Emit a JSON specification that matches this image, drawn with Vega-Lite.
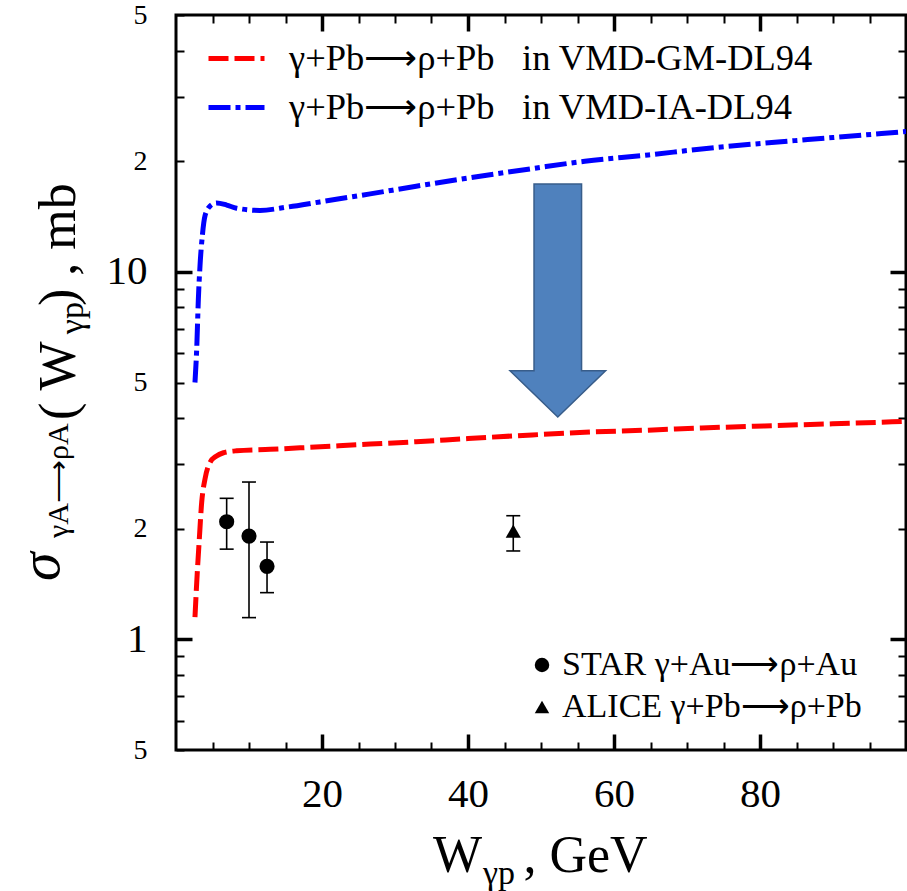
{
  "$schema": "https://vega.github.io/schema/vega-lite/v6.json",
  "width": 730,
  "height": 735,
  "autosize": {"type": "none"},
  "padding": {"left": 176, "top": 15, "right": 1, "bottom": 141},
  "background": "white",
  "config": {
    "view": {"stroke": "black", "strokeWidth": 3},
    "font": "Liberation Serif",
    "axis": {"labelFont": "Liberation Serif", "labelColor": "black", "tickColor": "black", "domain": false, "grid": false, "labelFlush": false, "labelOverlap": false, "labelBound": false}
  },
  "datasets": {
    "curves": [
      {"W": 2.6, "sigma": 1.15, "model": "VMD-GM-DL94"},
      {"W": 2.84, "sigma": 1.43, "model": "VMD-GM-DL94"},
      {"W": 3.19, "sigma": 1.87, "model": "VMD-GM-DL94"},
      {"W": 3.52, "sigma": 2.36, "model": "VMD-GM-DL94"},
      {"W": 3.97, "sigma": 2.73, "model": "VMD-GM-DL94"},
      {"W": 4.66, "sigma": 3.03, "model": "VMD-GM-DL94"},
      {"W": 5.5, "sigma": 3.15, "model": "VMD-GM-DL94"},
      {"W": 6.5, "sigma": 3.22, "model": "VMD-GM-DL94"},
      {"W": 8.3, "sigma": 3.26, "model": "VMD-GM-DL94"},
      {"W": 12.9, "sigma": 3.29, "model": "VMD-GM-DL94"},
      {"W": 17, "sigma": 3.32, "model": "VMD-GM-DL94"},
      {"W": 26.6, "sigma": 3.4, "model": "VMD-GM-DL94"},
      {"W": 32.9, "sigma": 3.45, "model": "VMD-GM-DL94"},
      {"W": 40, "sigma": 3.52, "model": "VMD-GM-DL94"},
      {"W": 48.8, "sigma": 3.6, "model": "VMD-GM-DL94"},
      {"W": 56, "sigma": 3.66, "model": "VMD-GM-DL94"},
      {"W": 64.7, "sigma": 3.71, "model": "VMD-GM-DL94"},
      {"W": 72, "sigma": 3.76, "model": "VMD-GM-DL94"},
      {"W": 80.6, "sigma": 3.81, "model": "VMD-GM-DL94"},
      {"W": 90, "sigma": 3.86, "model": "VMD-GM-DL94"},
      {"W": 100, "sigma": 3.92, "model": "VMD-GM-DL94"},
      {"W": 2.6, "sigma": 5.0, "model": "VMD-IA-DL94"},
      {"W": 2.84, "sigma": 6.2, "model": "VMD-IA-DL94"},
      {"W": 3.06, "sigma": 8.4, "model": "VMD-IA-DL94"},
      {"W": 3.29, "sigma": 10.4, "model": "VMD-IA-DL94"},
      {"W": 3.6, "sigma": 12.5, "model": "VMD-IA-DL94"},
      {"W": 3.97, "sigma": 14.2, "model": "VMD-IA-DL94"},
      {"W": 4.66, "sigma": 15.1, "model": "VMD-IA-DL94"},
      {"W": 5.57, "sigma": 15.4, "model": "VMD-IA-DL94"},
      {"W": 6.94, "sigma": 15.2, "model": "VMD-IA-DL94"},
      {"W": 8.3, "sigma": 14.9, "model": "VMD-IA-DL94"},
      {"W": 11.5, "sigma": 14.7, "model": "VMD-IA-DL94"},
      {"W": 15.2, "sigma": 15.0, "model": "VMD-IA-DL94"},
      {"W": 19.7, "sigma": 15.5, "model": "VMD-IA-DL94"},
      {"W": 26.6, "sigma": 16.3, "model": "VMD-IA-DL94"},
      {"W": 32.9, "sigma": 17.1, "model": "VMD-IA-DL94"},
      {"W": 40, "sigma": 18.0, "model": "VMD-IA-DL94"},
      {"W": 48.8, "sigma": 19.1, "model": "VMD-IA-DL94"},
      {"W": 56, "sigma": 20.0, "model": "VMD-IA-DL94"},
      {"W": 64.7, "sigma": 20.8, "model": "VMD-IA-DL94"},
      {"W": 72, "sigma": 21.6, "model": "VMD-IA-DL94"},
      {"W": 80.6, "sigma": 22.4, "model": "VMD-IA-DL94"},
      {"W": 90, "sigma": 23.2, "model": "VMD-IA-DL94"},
      {"W": 100, "sigma": 24.1, "model": "VMD-IA-DL94"}
    ],
    "points": [
      {"W": 6.94, "sigma": 2.09, "lo": 1.76, "hi": 2.42, "exp": "STAR γ+Au⟶ρ+Au"},
      {"W": 10.0, "sigma": 1.91, "lo": 1.146, "hi": 2.68, "exp": "STAR γ+Au⟶ρ+Au"},
      {"W": 12.47, "sigma": 1.58, "lo": 1.34, "hi": 1.84, "exp": "STAR γ+Au⟶ρ+Au"},
      {"W": 46.2, "sigma": 1.97, "lo": 1.74, "hi": 2.17, "exp": "ALICE γ+Pb⟶ρ+Pb"}
    ],
    "arrow": [
      {"W": 52.3, "sigma": 8.36}
    ]
  },
  "layer": [
    {
      "data": {"name": "curves"},
      "mark": {"type": "line", "strokeWidth": 5, "interpolate": "monotone", "clip": true},
      "encoding": {
        "x": {"field": "W", "type": "quantitative", "scale": {"domain": [0, 100], "nice": false, "zero": false},
              "axis": {"orient": "bottom", "title": null, "values": [20, 40, 60, 80], "tickSize": -16, "tickWidth": 3.5, "labelFontSize": 41, "labelPadding": 40}},
        "y": {"field": "sigma", "type": "quantitative", "scale": {"type": "log", "domain": [0.5, 50], "nice": false},
              "axis": {"orient": "left", "title": null, "values": [1, 10], "tickSize": -16, "tickWidth": 3.5, "labelFontSize": 41, "labelPadding": 45}},
        "color": {"field": "model", "type": "nominal",
                  "scale": {"domain": ["VMD-GM-DL94", "VMD-IA-DL94"], "range": ["#ff0000", "#0000ff"]},
                  "legend": {"orient": "none", "legendX": 30, "legendY": 13, "title": null, "symbolType": "stroke", "symbolSize": 3136, "symbolStrokeWidth": 5, "labelFont": "Liberation Serif", "labelFontSize": 36.5, "labelColor": "black", "labelOffset": 22, "labelLimit": 0, "rowPadding": -15, "padding": 0, "labelExpr": "'γ+Pb⟶ρ+Pb\u00a0\u00a0\u00a0in ' + datum.label"}},
        "strokeDash": {"field": "model", "type": "nominal",
                  "scale": {"domain": ["VMD-GM-DL94", "VMD-IA-DL94"], "range": [[20, 6], [22, 5, 5, 5]]},
                  "legend": {"orient": "none", "legendX": 30, "legendY": 13, "title": null, "symbolType": "stroke", "symbolSize": 3136, "symbolStrokeWidth": 5, "labelFont": "Liberation Serif", "labelFontSize": 36.5, "labelColor": "black", "labelOffset": 22, "labelLimit": 0, "rowPadding": -15, "padding": 0, "labelExpr": "'γ+Pb⟶ρ+Pb\u00a0\u00a0\u00a0in ' + datum.label"}}
      }
    },
    {
      "data": {"name": "points"},
      "mark": {"type": "rule", "strokeWidth": 1.6, "color": "black"},
      "encoding": {
        "x": {"field": "W", "type": "quantitative",
              "axis": {"orient": "bottom", "title": null, "values": [5, 10, 15, 25, 30, 35, 45, 50, 55, 65, 70, 75, 85, 90, 95], "tickSize": -8, "tickWidth": 2, "labels": false}},
        "y": {"field": "lo", "type": "quantitative",
              "axis": {"orient": "left", "title": null, "values": [0.5, 0.6, 0.7, 0.8, 0.9, 2, 3, 4, 5, 6, 7, 8, 9, 20, 30, 40, 50], "tickSize": -8, "tickWidth": 2, "labelFontSize": 28, "labelPadding": 37,
                       "labelExpr": "datum.value == 0.5 || datum.value == 5 || datum.value == 50 ? '5' : (datum.value == 2 || datum.value == 20 ? '2' : '')"}},
        "y2": {"field": "hi"}
      }
    },
    {
      "data": {"name": "points"},
      "mark": {"type": "tick", "orient": "horizontal", "size": 14, "thickness": 1.6, "color": "black", "opacity": 1},
      "encoding": {
        "x": {"field": "W", "type": "quantitative",
              "axis": {"orient": "top", "title": null, "values": [20, 40, 60, 80], "tickSize": -16, "tickWidth": 3.5, "labels": false}},
        "y": {"field": "lo", "type": "quantitative",
              "axis": {"orient": "right", "title": null, "values": [1, 10], "tickSize": -16, "tickWidth": 3.5, "labels": false}}
      }
    },
    {
      "data": {"name": "points"},
      "mark": {"type": "tick", "orient": "horizontal", "size": 14, "thickness": 1.6, "color": "black", "opacity": 1},
      "encoding": {
        "x": {"field": "W", "type": "quantitative",
              "axis": {"orient": "top", "title": null, "values": [5, 10, 15, 25, 30, 35, 45, 50, 55, 65, 70, 75, 85, 90, 95], "tickSize": -8, "tickWidth": 2, "labels": false}},
        "y": {"field": "hi", "type": "quantitative",
              "axis": {"orient": "right", "title": null, "values": [0.6, 0.7, 0.8, 0.9, 2, 3, 4, 5, 6, 7, 8, 9, 20, 30, 40], "tickSize": -8, "tickWidth": 2, "labels": false}}
      }
    },
    {
      "data": {"name": "points"},
      "mark": {"type": "point", "filled": true, "color": "black", "opacity": 1, "size": 230},
      "encoding": {
        "x": {"field": "W", "type": "quantitative", "axis": null},
        "y": {"field": "sigma", "type": "quantitative", "axis": null},
        "shape": {"field": "exp", "type": "nominal",
                  "scale": {"domain": ["STAR γ+Au⟶ρ+Au", "ALICE γ+Pb⟶ρ+Pb"], "range": ["circle", "triangle-up"]},
                  "legend": {"orient": "none", "legendX": 349, "legendY": 633, "title": null, "symbolSize": 210, "symbolFillColor": "black", "symbolStrokeWidth": 0, "labelFont": "Liberation Serif", "labelFontSize": 34, "labelColor": "black", "labelOffset": 3, "labelLimit": 0, "rowPadding": 8, "padding": 0}}
      }
    },
    {
      "data": {"name": "arrow"},
      "mark": {"type": "point", "shape": "M -0.204 -1 L 0.204 -1 L 0.204 0.603 L 0.41 0.603 L 0 1 L -0.41 0.603 L -0.204 0.603 Z", "size": 54289, "filled": true, "fill": "#4f81bd", "stroke": "#385d8a", "strokeWidth": 1.5, "opacity": 1, "fillOpacity": 1},
      "encoding": {
        "x": {"field": "W", "type": "quantitative", "axis": null},
        "y": {"field": "sigma", "type": "quantitative", "axis": null}
      }
    },
    {
      "data": {"values": [{}]},
      "mark": {"type": "text", "text": "W", "font": "Liberation Serif", "fontSize": 52, "align": "left", "baseline": "alphabetic", "color": "black"},
      "encoding": {"x": {"datum": 35.2, "type": "quantitative", "axis": null}, "y": {"datum": 0.2328, "type": "quantitative", "axis": null}}
    },
    {
      "data": {"values": [{}]},
      "mark": {"type": "text", "text": "γp", "font": "Liberation Serif", "fontSize": 34, "align": "left", "baseline": "alphabetic", "color": "black"},
      "encoding": {"x": {"datum": 42.05, "type": "quantitative", "axis": null}, "y": {"datum": 0.216, "type": "quantitative", "axis": null}}
    },
    {
      "data": {"values": [{}]},
      "mark": {"type": "text", "text": ", GeV", "font": "Liberation Serif", "fontSize": 52, "align": "left", "baseline": "alphabetic", "color": "black"},
      "encoding": {"x": {"datum": 47.6, "type": "quantitative", "axis": null}, "y": {"datum": 0.2328, "type": "quantitative", "axis": null}}
    },
    {
      "data": {"values": [{}]},
      "mark": {"type": "text", "text": "σ", "font": "Liberation Serif", "fontStyle": "italic", "fontSize": 58, "angle": 270, "align": "left", "baseline": "alphabetic", "color": "black"},
      "encoding": {"x": {"datum": -16.0, "type": "quantitative", "axis": null}, "y": {"datum": 1.442, "type": "quantitative", "axis": null}}
    },
    {
      "data": {"values": [{}]},
      "mark": {"type": "text", "text": "γA⟶ρA", "font": "Liberation Serif", "fontSize": 30, "angle": 270, "align": "left", "baseline": "alphabetic", "color": "black"},
      "encoding": {"x": {"datum": -14.79, "type": "quantitative", "axis": null}, "y": {"datum": 1.888, "type": "quantitative", "axis": null}}
    },
    {
      "data": {"values": [{}]},
      "mark": {"type": "text", "text": "( W", "font": "Liberation Serif", "fontSize": 52, "angle": 270, "align": "left", "baseline": "alphabetic", "color": "black"},
      "encoding": {"x": {"datum": -13.84, "type": "quantitative", "axis": null}, "y": {"datum": 3.953, "type": "quantitative", "axis": null}}
    },
    {
      "data": {"values": [{}]},
      "mark": {"type": "text", "text": "γp", "font": "Liberation Serif", "fontSize": 34, "angle": 270, "align": "left", "baseline": "alphabetic", "color": "black"},
      "encoding": {"x": {"datum": -12.74, "type": "quantitative", "axis": null}, "y": {"datum": 6.77, "type": "quantitative", "axis": null}}
    },
    {
      "data": {"values": [{}]},
      "mark": {"type": "text", "text": ") , mb", "font": "Liberation Serif", "fontSize": 52, "angle": 270, "align": "left", "baseline": "alphabetic", "color": "black"},
      "encoding": {"x": {"datum": -13.84, "type": "quantitative", "axis": null}, "y": {"datum": 8.07, "type": "quantitative", "axis": null}}
    }
  ],
  "resolve": {"axis": {"x": "independent", "y": "independent"}}
}
